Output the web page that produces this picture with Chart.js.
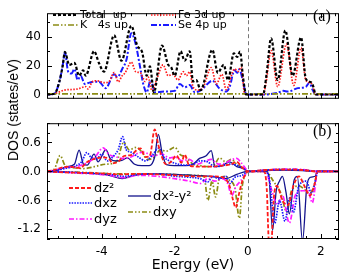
<!DOCTYPE html>
<html>
<head>
<meta charset="utf-8">
<script src="https://cdn.jsdelivr.net/npm/chart.js@4.4.1/dist/chart.umd.min.js"></script>
<style>
  body { margin: 0; background: #fff; }
  #wrap { position: relative; width: 354px; height: 275px; background: #fff; overflow: hidden; }
  #wrap canvas { position: absolute; left: 0; }
  #ytitle {
    position: absolute; left: 13px; top: 110px;
    transform: translate(-50%, -50%) rotate(-90deg);
    white-space: nowrap; font: 14px "Liberation Sans", Arial, sans-serif; color: #000;
  }
</style>
</head>
<body>
<div id="wrap">
  <canvas id="dosA" width="354" height="112" style="top:0"></canvas>
  <canvas id="dosB" width="354" height="165" style="top:110px"></canvas>
  <div id="ytitle">DOS (states/eV)</div>
</div>
<script>
// ---- panel (a): spin-up DOS, [energy eV, states/eV] ----
const totalUp = [[-5.5,0],[-5.3,0.5],[-5.16,9],[-5.07,20],[-5.01,29.5],[-4.89,20.5],[-4.75,22],[-4.62,13],
  [-4.51,16.8],[-4.44,13],[-4.21,30],[-4.08,22],[-3.94,15.8],[-3.66,41],[-3.46,23.4],[-3.19,47.6],[-3.03,34],
  [-2.89,29],[-2.77,13],[-2.68,19.5],[-2.57,1.5],[-2.35,34],[-2.18,20.6],[-2.1,19],[-2.0,13],[-1.84,30],
  [-1.73,23.4],[-1.59,30],[-1.5,9],[-1.41,10],[-1.29,3],[-0.97,31],[-0.82,15],[-0.66,20.6],[-0.54,10],
  [-0.38,28.6],[-0.29,26],[-0.21,29.7],[-0.13,12],[-0.04,0],[0.42,0],[0.52,15],[0.64,39],[0.82,10],[1.03,44.4],
  [1.23,13],[1.46,39.6],[1.59,11],[1.73,8.5],[1.79,6],[1.86,0],[2.5,0]];
const k4sUp = [[-5.5,0.4],[-3,0.4],[-1,0.4],[0,0.4],[1,0.4],[2.5,0.4]];
const fe3dUp = [[-5.5,0],[-5.3,0.5],[-5.14,2],[-5.03,3],[-4.8,3.5],[-4.66,3.8],[-4.44,5.4],[-4.37,3.8],
  [-4.26,8.8],[-4.12,9.5],[-3.94,8.2],[-3.8,9],[-3.66,15.2],[-3.55,8.8],[-3.44,13],[-3.36,15],[-3.19,22.5],
  [-3.07,15.8],[-2.94,15],[-2.86,11],[-2.82,9],[-2.73,12],[-2.62,2.5],[-2.5,10],[-2.32,20.6],[-2.18,13],
  [-2.05,14],[-1.91,10],[-1.77,15.8],[-1.68,13],[-1.59,15.8],[-1.5,5.4],[-1.36,3],[-1.22,5],[-1.0,18.7],
  [-0.86,7.3],[-0.71,14],[-0.59,3.4],[-0.36,17.7],[-0.27,16],[-0.18,19],[-0.09,1],[-0.04,0],[0.42,0],[0.5,8],
  [0.64,30.5],[0.82,5.4],[1.06,34.9],[1.26,6.3],[1.46,32.4],[1.59,10],[1.75,7.5],[1.86,0],[2.5,0]];
const se4pUp = [[-5.5,0],[-5.3,0.5],[-5.16,9],[-5.07,20],[-5.01,29],[-4.92,15.8],[-4.83,14.5],[-4.75,17.7],
  [-4.66,10],[-4.58,13],[-4.46,7.3],[-4.37,8],[-4.21,8.8],[-4.08,8.8],[-3.89,4.4],[-3.66,14],[-3.57,12],
  [-3.44,17.7],[-3.32,24.4],[-3.19,42.5],[-3.07,34.9],[-2.94,17.7],[-2.86,7],[-2.77,1.5],[-2.66,10],[-2.54,1.5],
  [-2.3,2],[-2.0,2.5],[-1.86,7.3],[-1.73,5],[-1.59,6.5],[-1.45,1.5],[-1.26,3.5],[-0.97,9.5],[-0.77,4],[-0.59,2],
  [-0.5,5],[-0.36,16.8],[-0.29,15],[-0.23,17.5],[-0.13,9],[-0.04,0],[0.42,0],[0.82,1.1],[0.97,2.5],[1.1,2],
  [1.37,4.4],[1.59,5.3],[1.69,8.2],[1.78,3],[1.86,0],[2.5,0]];

// ---- panel (b): Fe d-orbital DOS, spin up (+) and spin down (-) ----
const dz2Up = [[-5.5,0],[-5.3,0.03],[-5.1,0.08],[-4.9,0.1],[-4.6,0.07],[-4.39,0.2],[-4.21,0.26],[-3.98,0.29],
  [-3.8,0.26],[-3.7,0.17],[-3.55,0.2],[-3.39,0.32],[-3.2,0.34],[-3.03,0.45],[-2.94,0.48],[-2.8,0.3],[-2.68,0.33],
  [-2.55,0.87],[-2.45,0.55],[-2.36,0.32],[-2.25,0.15],[-2.1,0.2],[-1.95,0.33],[-1.82,0.18],[-1.73,0.35],
  [-1.6,0.12],[-1.3,0.1],[-1.0,0.1],[-0.7,0.12],[-0.45,0.15],[-0.3,0.2],[-0.15,0.08],[0,0],[0.5,0.03],
  [1.0,0.04],[1.5,0.03],[1.9,0],[2.5,0]];
const dz2Dn = [[-5.5,0],[-5.0,-0.02],[-4.0,-0.04],[-3.5,-0.06],[-3.0,-0.05],[-2.5,-0.06],[-2.0,-0.08],
  [-1.5,-0.1],[-1.0,-0.1],[-0.7,-0.12],[-0.5,-0.3],[-0.4,-0.6],[-0.33,-0.75],[-0.25,-0.5],[-0.15,-0.2],
  [-0.05,-0.05],[0,0],[0.45,0],[0.52,-0.35],[0.58,-1.45],[0.64,-1.5],[0.72,-0.5],[0.8,-0.3],[0.95,-0.6],
  [1.1,-0.7],[1.25,-0.3],[1.4,-0.1],[1.55,-0.3],[1.7,-0.5],[1.85,-0.2],[1.9,0],[2.5,0]];
const dxzUp = [[-5.5,0],[-5.2,0.03],[-4.9,0.08],[-4.7,0.12],[-4.55,0.2],[-4.41,0.39],[-4.3,0.3],[-4.15,0.25],
  [-4.0,0.36],[-3.85,0.22],[-3.7,0.3],[-3.55,0.45],[-3.43,0.72],[-3.33,0.45],[-3.2,0.4],[-3.0,0.3],[-2.8,0.22],
  [-2.6,0.35],[-2.45,0.48],[-2.3,0.3],[-2.1,0.2],[-1.9,0.15],[-1.7,0.13],[-1.5,0.15],[-1.3,0.22],[-1.1,0.2],
  [-0.9,0.1],[-0.7,0.12],[-0.5,0.15],[-0.3,0.13],[-0.1,0.05],[0,0],[0.5,0.03],[1.0,0.04],[1.5,0.03],[1.9,0],[2.5,0]];
const dxzDn = [[-5.5,0],[-4.5,-0.03],[-3.8,-0.06],[-3.4,-0.1],[-3.0,-0.06],[-2.5,-0.05],[-2.0,-0.1],
  [-1.6,-0.12],[-1.3,-0.15],[-1.1,-0.22],[-0.95,-0.1],[-0.8,-0.15],[-0.6,-0.1],[-0.5,-0.25],[-0.35,-0.12],
  [-0.15,-0.08],[0,0],[0.5,0],[0.6,-0.2],[0.74,-1.07],[0.87,-0.6],[1.02,-1.03],[1.15,-0.55],[1.25,-0.85],
  [1.4,-0.3],[1.6,-0.2],[1.75,-0.45],[1.88,-0.1],[1.92,0],[2.5,0]];
const dyzUp = [[-5.5,0],[-5.3,0.03],[-5.0,0.08],[-4.7,0.1],[-4.4,0.18],[-4.2,0.28],[-3.96,0.49],[-3.8,0.35],
  [-3.6,0.3],[-3.45,0.27],[-3.2,0.3],[-3.0,0.38],[-2.85,0.4],[-2.6,0.32],[-2.35,0.36],[-2.15,0.28],[-2.0,0.3],
  [-1.8,0.22],[-1.6,0.25],[-1.4,0.15],[-1.2,0.2],[-1.0,0.25],[-0.8,0.15],[-0.6,0.18],[-0.45,0.24],[-0.3,0.27],
  [-0.2,0.2],[-0.05,0.05],[0,0],[0.5,0.03],[1.0,0.05],[1.5,0.04],[1.9,0],[2.5,0]];
const dyzDn = [[-5.5,0],[-4.5,-0.04],[-3.8,-0.08],[-3.4,-0.13],[-3.0,-0.08],[-2.5,-0.1],[-2.0,-0.15],
  [-1.6,-0.2],[-1.3,-0.25],[-1.1,-0.15],[-0.9,-0.2],[-0.7,-0.15],[-0.55,-0.25],[-0.44,-0.5],[-0.33,-0.32],
  [-0.2,-0.2],[-0.08,-0.08],[0,0],[0.5,0],[0.62,-0.3],[0.82,-0.69],[0.95,-0.5],[1.14,-1.07],[1.3,-0.5],
  [1.5,-0.4],[1.65,-0.4],[1.77,-0.65],[1.85,-0.3],[1.9,0],[2.5,0]];
const dx2y2Up = [[-5.5,0],[-5.2,0.03],[-4.95,0.1],[-4.75,0.15],[-4.62,0.44],[-4.5,0.15],[-4.4,0.13],[-4.21,0.36],
  [-4.1,0.2],[-3.89,0.45],[-3.75,0.25],[-3.6,0.22],[-3.45,0.23],[-3.3,0.28],[-3.1,0.15],[-2.9,0.12],[-2.7,0.12],
  [-2.55,0.3],[-2.45,0.77],[-2.35,0.4],[-2.23,0.14],[-2.0,0.12],[-1.7,0.12],[-1.5,0.15],[-1.32,0.27],
  [-1.15,0.32],[-1.0,0.43],[-0.9,0.1],[-0.7,0.12],[-0.5,0.2],[-0.3,0.1],[-0.1,0.06],[0,0],[0.5,0.02],
  [1.0,0.03],[1.5,0.02],[1.9,0],[2.5,0]];
const dx2y2Dn = [[-5.5,0],[-4.5,-0.03],[-3.8,-0.08],[-3.44,-0.15],[-3.1,-0.08],[-2.5,-0.05],[-2.0,-0.06],
  [-1.5,-0.08],[-1.0,-0.1],[-0.6,-0.15],[-0.3,-0.06],[0,0],[0.5,0],[0.58,-0.1],[0.68,-1.22],[0.78,-0.4],
  [0.87,-0.2],[0.95,-0.1],[1.05,-0.44],[1.14,-0.88],[1.27,-0.18],[1.36,-0.1],[1.5,-1.45],[1.62,-0.3],
  [1.72,-0.12],[1.85,-0.1],[1.9,0],[2.5,0]];
const dxyUp = [[-5.5,0],[-5.3,0.05],[-5.14,0.33],[-5.0,0.12],[-4.8,0.08],[-4.5,0.06],[-4.2,0.1],[-3.9,0.15],
  [-3.6,0.2],[-3.4,0.6],[-3.25,0.45],[-3.05,0.5],[-2.9,0.4],[-2.75,0.25],[-2.55,0.3],[-2.4,0.45],[-2.23,0.42],
  [-2.0,0.5],[-1.85,0.35],[-1.7,0.3],[-1.5,0.15],[-1.3,0.12],[-1.1,0.1],[-0.9,0.15],[-0.78,0.28],[-0.6,0.2],
  [-0.45,0.25],[-0.3,0.15],[-0.1,0.05],[0,0],[0.5,0.03],[1.0,0.04],[1.5,0.03],[1.9,0],[2.5,0]];
const dxyDn = [[-5.5,0],[-4.5,-0.02],[-3.5,-0.05],[-2.5,-0.05],[-1.5,-0.08],[-1.2,-0.1],[-1.09,-0.6],
  [-0.98,-0.2],[-0.88,-0.53],[-0.78,-0.15],[-0.6,-0.1],[-0.5,-0.18],[-0.35,-0.35],[-0.23,-0.97],[-0.15,-0.3],
  [-0.05,-0.05],[0,0],[0.5,0],[0.7,-0.2],[0.9,-0.44],[1.07,-0.84],[1.2,-0.4],[1.4,-0.3],[1.7,-0.45],
  [1.85,-0.2],[1.9,0],[2.5,0]];

// axis ranges and labelled ticks
const energyMin = -5.5, energyMax = 2.5;
const energyTicks = [-4, -2, 0, 2];
const dosTicksA = [0, 20, 40];
const dosTicksB = [-1.2, -0.6, 0, 0.6];

Chart.defaults.font.family = '"DejaVu Sans", sans-serif';
Chart.defaults.color = '#000';

const RED = '#ff1a1a', BLUE = '#1a1aff', OLIVE = '#8c8c14', MAGENTA = '#ff1aff', NAVY = '#14148c';

function series(label, pts, color, dash, width) {
  return {
    label: label,
    data: pts.map(p => ({x: p[0], y: p[1]})),
    borderColor: color,
    borderDash: dash,
    borderWidth: width,
    pointRadius: 0,
    fill: false,
    cubicInterpolationMode: 'monotone'
  };
}

function fixedTicks(values) {
  return scale => { scale.ticks = values.map(v => ({value: v})); };
}

function seg(ctx, x1, y1, x2, y2) {
  ctx.beginPath();
  ctx.moveTo(x1, y1);
  ctx.lineTo(x2, y2);
  ctx.stroke();
}

// frame, inward ticks, Fermi level, in-plot legend and panel tag
const panelDecor = {
  id: 'panelDecor',
  afterDatasetsDraw(chart, args, o) {
    const ctx = chart.ctx, a = chart.chartArea;
    const xs = chart.scales.x, ys = chart.scales.y;
    ctx.save();
    ctx.lineWidth = 1;
    ctx.strokeStyle = '#777';
    ctx.setLineDash([4, 3]);
    const xf = Math.round(xs.getPixelForValue(0)) + 0.5;
    seg(ctx, xf, a.top, xf, a.bottom);
    ctx.setLineDash([]);

    ctx.strokeStyle = '#000';
    ctx.strokeRect(a.left + 0.5, a.top + 0.5, a.right - a.left - 1, a.bottom - a.top - 1);
    for (let k = Math.ceil(xs.min / o.xStep - 1e-9); k * o.xStep <= xs.max + 1e-9; k++) {
      const px = Math.round(xs.getPixelForValue(k * o.xStep)) + 0.5;
      const len = k % o.xMajor === 0 ? 5 : 3;
      seg(ctx, px, a.bottom, px, a.bottom - len);
      seg(ctx, px, a.top, px, a.top + len);
    }
    for (let k = Math.ceil(ys.min / o.yStep - 1e-9); k * o.yStep <= ys.max + 1e-9; k++) {
      const py = Math.round(ys.getPixelForValue(k * o.yStep)) + 0.5;
      const len = k % o.yMajor === 0 ? 5 : 3;
      seg(ctx, a.left, py, a.left + len, py);
      seg(ctx, a.right, py, a.right - len, py);
    }

    ctx.font = o.legendFont;
    ctx.textBaseline = 'middle';
    ctx.textAlign = 'left';
    o.legend.forEach(it => {
      const ds = chart.data.datasets[it.ds];
      ctx.strokeStyle = ds.borderColor;
      ctx.lineWidth = ds.borderWidth;
      ctx.setLineDash(ds.borderDash || []);
      seg(ctx, it.x, it.y, it.x + o.sample, it.y);
      ctx.setLineDash([]);
      ctx.fillStyle = '#000';
      ctx.fillText(it.text, it.x + o.sample + 2, it.y + 0.5);
    });

    ctx.font = '16px "Liberation Serif", serif';
    ctx.fillText(o.tag, o.tagX, o.tagY);
    ctx.restore();
  }
};

new Chart(document.getElementById('dosA'), {
  type: 'line',
  data: {
    datasets: [
      series('Total  up', totalUp, '#000', [3, 2], 2.2),
      series('K   4s up', k4sUp, OLIVE, [6, 2, 1.5, 2, 1.5, 2], 1.6),
      series('Fe 3d up', fe3dUp, RED, [1.5, 1.5], 1.7),
      series('Se 4p up', se4pUp, BLUE, [6, 2, 2, 2], 2)
    ]
  },
  options: {
    responsive: false,
    animation: false,
    devicePixelRatio: 1,
    layout: {padding: {left: 0, right: 15, top: 4, bottom: 4}},
    plugins: {
      legend: {display: false},
      tooltip: {enabled: false},
      panelDecor: {
        xStep: 0.4, xMajor: 5, yStep: 10, yMajor: 2,
        legendFont: '11px "DejaVu Sans", sans-serif', sample: 25,
        legend: [
          {ds: 0, text: 'Total  up', x: 53, y: 15},
          {ds: 1, text: 'K   4s up', x: 53, y: 25},
          {ds: 2, text: 'Fe 3d up', x: 151, y: 15},
          {ds: 3, text: 'Se 4p up', x: 151, y: 25}
        ],
        tag: '(a)', tagX: 313, tagY: 17
      }
    },
    scales: {
      x: {type: 'linear', min: energyMin, max: energyMax, display: false},
      y: {
        type: 'linear', min: -3, max: 56.4,
        afterFit: s => { s.width = 47; },
        afterBuildTicks: fixedTicks(dosTicksA),
        grid: {display: false, drawTicks: false},
        border: {display: false},
        ticks: {padding: 6, font: {size: 12}}
      }
    }
  },
  plugins: [panelDecor]
});

new Chart(document.getElementById('dosB'), {
  type: 'line',
  data: {
    datasets: [
      series('dz²', dz2Up, RED, [4, 2], 1.8),
      series('dxz', dxzUp, BLUE, [1.5, 1.2], 1.7),
      series('dyz', dyzUp, MAGENTA, [5, 2, 1.5, 2], 1.7),
      series('dx²-y²', dx2y2Up, NAVY, [], 1.3),
      series('dxy', dxyUp, OLIVE, [5, 2, 1.5, 2, 1.5, 2], 1.7),
      series('dz² dn', dz2Dn, RED, [4, 2], 1.8),
      series('dxz dn', dxzDn, BLUE, [1.5, 1.2], 1.7),
      series('dyz dn', dyzDn, MAGENTA, [5, 2, 1.5, 2], 1.7),
      series('dx²-y² dn', dx2y2Dn, NAVY, [], 1.3),
      series('dxy dn', dxyDn, OLIVE, [5, 2, 1.5, 2, 1.5, 2], 1.7)
    ]
  },
  options: {
    responsive: false,
    animation: false,
    devicePixelRatio: 1,
    layout: {padding: {left: 0, right: 15, top: 3, bottom: 0}},
    plugins: {
      legend: {display: false},
      tooltip: {enabled: false},
      panelDecor: {
        xStep: 0.4, xMajor: 5, yStep: 0.2, yMajor: 3,
        legendFont: '13px "DejaVu Sans", sans-serif', sample: 23,
        legend: [
          {ds: 0, text: 'dz²', x: 69, y: 78},
          {ds: 1, text: 'dxz', x: 69, y: 93},
          {ds: 2, text: 'dyz', x: 69, y: 109},
          {ds: 3, text: 'dx²-y²', x: 128, y: 86},
          {ds: 4, text: 'dxy', x: 128, y: 102}
        ],
        tag: '(b)', tagX: 313, tagY: 22
      }
    },
    scales: {
      x: {
        type: 'linear', min: energyMin, max: energyMax,
        afterFit: s => { s.height = 36; },
        afterBuildTicks: fixedTicks(energyTicks),
        grid: {display: false, drawTicks: false},
        border: {display: false},
        ticks: {padding: 6, font: {size: 12}, callback: v => String(v)},
        title: {display: true, text: 'Energy (eV)', font: {size: 14}, padding: {top: 0, bottom: 1}}
      },
      y: {
        type: 'linear', min: -1.4, max: 1.0,
        afterFit: s => { s.width = 47; },
        afterBuildTicks: fixedTicks(dosTicksB),
        grid: {display: false, drawTicks: false},
        border: {display: false},
        ticks: {padding: 6, font: {size: 12}, callback: v => v.toFixed(1)}
      }
    }
  },
  plugins: [panelDecor]
});
</script>
</body>
</html>
